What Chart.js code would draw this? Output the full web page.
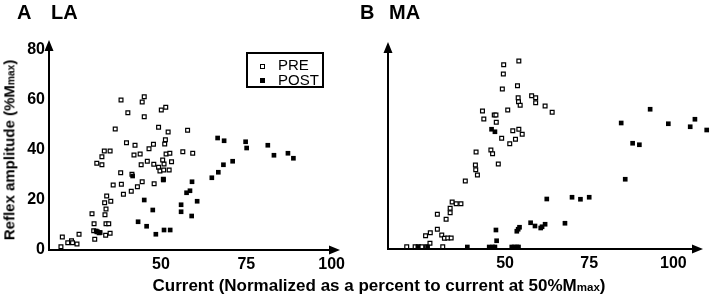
<!DOCTYPE html>
<html>
<head>
<meta charset="utf-8">
<script src="https://cdn.jsdelivr.net/npm/chart.js@4.4.0/dist/chart.umd.min.js"></script>
<style>
  body { margin: 0; background: #fff; }
  #wrap { position: relative; width: 710px; height: 297px; overflow: hidden; font-family: "Liberation Sans", Arial, sans-serif; color: #000; }
  canvas { position: absolute; top: 0; }
  #chartA { left: 0; }
  #chartB { left: 355px; }
  .txt { position: absolute; white-space: nowrap; line-height: 1; }
  .panel { font-size: 20px; font-weight: bold; top: 2px; }
  .sub { font-size: 0.68em; }
  #ytitle { left: 9px; top: 150px; font-size: 15px; font-weight: bold; transform: translate(-50%, -50%) rotate(-90deg); }
  #xtitle { left: 379px; top: 277px; font-size: 17px; font-weight: bold; transform: translateX(-50%); }
  #legend { position: absolute; left: 246px; top: 52px; width: 78px; height: 36px; border: 2px solid #000; box-sizing: border-box; }
  .sym { position: absolute; width: 5px; height: 5px; box-sizing: border-box; }
  .legtxt { font-size: 15px; }
</style>
</head>
<body>
<div id="wrap">
  <canvas id="chartA" width="355" height="297"></canvas>
  <canvas id="chartB" width="355" height="297"></canvas>

  <div class="txt panel" style="left:17px">A</div>
  <div class="txt panel" style="left:51px">LA</div>
  <div class="txt panel" style="left:360px">B</div>
  <div class="txt panel" style="left:389px">MA</div>

  <div class="txt" id="ytitle">Reflex amplitude (%M<span class="sub">max</span>)</div>
  <div class="txt" id="xtitle">Current (Normalized as a percent to current at 50%M<span class="sub">max</span>)</div>

  <div id="legend">
    <div class="sym" style="left:12px;top:10px;border:1.2px solid #000;background:#fff"></div>
    <div class="sym" style="left:12px;top:24px;background:#000"></div>
    <div class="txt legtxt" style="left:30px;top:3px">PRE</div>
    <div class="txt legtxt" style="left:30px;top:18px">POST</div>
  </div>
</div>

<script>
// tick labels
const xTicks = [50, 75, 100];
const yTicksA = [0, 20, 40, 60, 80];

// A: LA  [current %, reflex %Mmax]
const preLA = [
  [20.7, 1.3], [21.1, 5.2], [22.7, 2.9], [23.8, 3.7], [24.1, 2.9], [25.4, 2.4], [26.0, 6.3],
  [29.8, 14.5], [30.4, 10.5], [30.3, 7.7], [30.6, 4.3], [31.3, 7.3], [31.9, 6.9],
  [31.2, 34.7], [32.7, 34.1], [32.7, 37.3], [33.4, 39.6], [35.1, 39.6],
  [33.6, 14.1], [33.9, 16.4], [33.5, 18.9], [34.1, 21.6], [35.3, 19.5],
  [33.9, 10.5], [34.7, 10.5], [33.8, 5.9], [35.1, 6.7],
  [36.6, 48.4], [36.0, 26.0], [38.2, 30.9], [38.4, 26.3], [39.0, 22.3],
  [38.3, 60.0], [40.3, 54.9], [39.9, 42.9], [41.3, 23.5], [41.5, 30.3],
  [42.4, 41.9], [42.1, 38.0], [43.1, 25.3], [43.9, 38.4], [44.2, 34.1],
  [44.5, 59.2], [45.1, 61.3], [45.1, 53.3], [44.5, 27.3], [46.0, 35.5], [46.5, 40.5],
  [47.8, 42.3], [47.9, 34.3], [48.0, 26.5], [49.3, 49.1], [49.3, 33.1], [49.7, 31.6],
  [50.1, 56.0], [50.9, 34.4], [50.8, 32.0], [51.4, 57.1], [51.1, 42.4], [51.3, 44.1],
  [51.5, 38.4], [52.1, 47.2], [52.4, 32.0], [52.6, 38.7], [53.1, 35.3], [50.5, 36.0],
  [50.7, 28.3], [56.4, 39.3], [57.8, 47.9], [59.3, 38.7]
];
const postLA = [
  [31.0, 7.6], [32.2, 7.0], [41.7, 29.6],
  [43.3, 11.3], [45.1, 20.0], [45.8, 9.5], [47.6, 16.0], [48.5, 6.3], [50.7, 28.0],
  [50.9, 8.0], [52.7, 8.0], [55.9, 18.1], [55.9, 15.3], [57.5, 22.9], [58.5, 23.7],
  [59.1, 27.3], [59.0, 13.6], [60.6, 19.5], [64.9, 28.9], [66.8, 31.1], [68.3, 34.1],
  [71.0, 35.5], [66.6, 44.8], [68.5, 43.7], [74.8, 43.3], [75.1, 40.8], [81.3, 41.9],
  [83.1, 37.9], [87.2, 38.7], [88.8, 36.7]
];

// B: MA
const preMA = [
  [20.8, 0.9], [23.3, 0.9], [24.3, 0.9], [25.3, 0.9], [26.7, 0.9], [27.7, 2.3], [31.5, 0.9],
  [26.4, 5.3], [27.8, 6.5], [29.9, 7.9], [31.2, 5.6], [32.0, 4.3], [33.0, 4.4], [34.0, 4.4],
  [29.9, 13.9], [32.5, 11.9], [33.7, 14.5], [33.7, 16.3], [34.3, 18.8], [35.5, 18.1], [36.9, 18.1],
  [38.2, 27.2], [41.2, 33.6], [41.3, 31.7], [41.8, 29.6], [41.4, 38.8],
  [45.8, 39.6], [46.3, 38.1], [48.0, 34.0], [43.3, 55.2], [43.7, 52.0],
  [46.8, 53.6], [47.3, 53.6], [47.4, 50.7], [49.0, 44.3], [50.8, 55.6],
  [49.2, 64.0], [49.5, 70.0], [49.6, 73.7], [53.7, 65.3], [54.1, 75.2],
  [53.9, 60.5], [54.0, 58.9], [54.5, 57.5], [52.3, 47.3], [54.1, 47.9], [55.1, 45.9],
  [51.4, 42.1], [53.1, 43.9], [57.9, 61.3], [59.1, 60.5], [59.1, 58.5], [61.9, 57.2], [64.0, 54.7]
];
const postMA = [
  [24.1, 0.8], [27.0, 0.8], [38.8, 0.8], [45.3, 0.8], [46.3, 0.8], [47.0, 0.8],
  [52.0, 0.8], [52.7, 0.8], [53.5, 0.8], [54.0, 0.8], [46.0, 47.9], [47.0, 46.9],
  [47.3, 7.6], [47.5, 3.3], [53.5, 7.1], [53.9, 7.9], [54.3, 8.7],
  [57.6, 10.5], [58.9, 9.2], [60.6, 8.4], [61.0, 8.9], [61.9, 9.9], [62.4, 20.0],
  [67.8, 10.3], [69.9, 20.7], [72.4, 19.9], [75.0, 20.7],
  [84.5, 50.4], [85.7, 27.9], [87.9, 42.3], [89.9, 41.7], [93.1, 55.9],
  [98.5, 50.1], [105.0, 48.9], [106.4, 51.9], [109.9, 47.6]
];

const tickFont = { family: "'Liberation Sans', Arial, sans-serif", size: 16, weight: 'bold' };

// black axes with arrow heads at the chart area ends
const axisArrows = {
  id: 'axisArrows',
  beforeDatasetsDraw(chart) {
    const ctx = chart.ctx;
    const a = chart.chartArea;
    ctx.save();
    ctx.strokeStyle = '#000';
    ctx.fillStyle = '#000';
    ctx.lineWidth = 2;
    ctx.beginPath();
    ctx.moveTo(a.left, a.bottom + 1);
    ctx.lineTo(a.left, a.top + 8);
    ctx.moveTo(a.left - 1, a.bottom);
    ctx.lineTo(a.right - 8, a.bottom);
    ctx.stroke();
    ctx.beginPath();
    ctx.moveTo(a.left, a.top);
    ctx.lineTo(a.left - 4.5, a.top + 11);
    ctx.lineTo(a.left + 4.5, a.top + 11);
    ctx.closePath();
    ctx.moveTo(a.right, a.bottom);
    ctx.lineTo(a.right - 11, a.bottom - 4.5);
    ctx.lineTo(a.right - 11, a.bottom + 4.5);
    ctx.closePath();
    ctx.fill();
    ctx.restore();
  }
};

function toPoints(arr) {
  return arr.map(p => ({ x: p[0], y: p[1] }));
}

function makePanel(id, pre, post, cfg) {
  new Chart(document.getElementById(id), {
    type: 'scatter',
    data: {
      datasets: [
        {
          label: 'PRE',
          data: toPoints(pre),
          pointStyle: 'rect',
          pointRadius: 2.7,
          pointBorderWidth: 1.2,
          pointBorderColor: '#000',
          pointBackgroundColor: '#fff',
          clip: false,
          order: 1
        },
        {
          label: 'POST',
          data: toPoints(post),
          pointStyle: 'rect',
          pointRadius: 3.3,
          pointBorderWidth: 0,
          pointBackgroundColor: '#000',
          clip: false,
          order: 0
        }
      ]
    },
    options: {
      responsive: false,
      animation: false,
      events: [],
      layout: { padding: { left: 0, right: cfg.padRight, top: cfg.top, bottom: 0 } },
      plugins: { legend: { display: false }, tooltip: { enabled: false } },
      scales: {
        x: {
          type: 'linear',
          min: cfg.xMin,
          max: cfg.xMax,
          border: { display: false },
          grid: { display: false, drawTicks: false },
          afterBuildTicks: s => { s.ticks = xTicks.map(v => ({ value: v })); },
          afterFit: s => { s.height = cfg.xHeight; },
          ticks: { color: '#000', font: tickFont, padding: 5, maxRotation: 0, autoSkip: false }
        },
        y: {
          type: 'linear',
          min: 0,
          max: cfg.yMax,
          border: { display: false },
          grid: { display: false, drawTicks: false },
          afterBuildTicks: s => { s.ticks = cfg.yTicks.map(v => ({ value: v })); },
          afterFit: s => { s.width = cfg.yWidth; },
          ticks: { display: cfg.yTicks.length > 0, color: '#000', font: tickFont, padding: 4 }
        }
      }
    },
    plugins: [axisArrows]
  });
}

makePanel('chartA', preLA, postLA, {
  xMin: 17.2, xMax: 102.45, yMax: 84, yTicks: yTicksA,
  yWidth: 49, xHeight: 47, top: 40, padRight: 15
});

makePanel('chartB', preMA, postMA, {
  xMin: 15.24, xMax: 108.8, yMax: 82.8, yTicks: [],
  yWidth: 33, xHeight: 48, top: 42, padRight: 7
});
</script>
</body>
</html>
